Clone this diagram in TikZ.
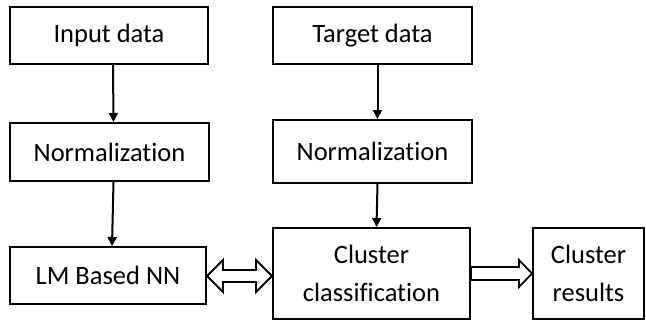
\documentclass[tikz,border=0pt]{standalone}
\usepackage{fontspec}
\setmainfont{Carlito}[RawFeature=-liga]
\usetikzlibrary{arrows.meta,calc}
\begin{document}
\begin{tikzpicture}[x=1pt,y=-1pt,
  box/.style={draw,line width=2pt,inner sep=0pt,align=center,font=\fontsize{26.5}{38}\selectfont},
  flow/.style={line width=2pt,-{Triangle[length=9pt,width=9pt]}},
  hollow/.style={draw,line width=1.8pt,fill=white,line join=miter}]
\useasboundingbox (0,0) rectangle (646,322);
% left column
\node[box,minimum width=198pt,minimum height=57pt] (in) at (109,35.5) {Input data};
\node[box,minimum width=199pt,minimum height=58pt] (n1) at (109.5,152) {Normalization};
\node[box,minimum width=196pt,minimum height=57pt] (lm) at (108,275.5) {LM Based NN};
% right column
\node[box,minimum width=199pt,minimum height=57pt] (tg) at (372.5,35.5) {Target data};
\node[box,minimum width=199pt,minimum height=63pt] (n2) at (372.5,151.5) {Normalization};
\node[box,minimum width=197pt,minimum height=91pt] (cc) at (371.5,273.5) {Cluster\\classification};
\node[box,minimum width=111pt,minimum height=91pt] (cr) at (588.5,273.5) {Cluster\\results};
% vertical flow arrows
\draw[flow] ([xshift=4pt]in.south) -- ([xshift=4pt]n1.north);
\draw[flow] ([xshift=4pt]n1.south) -- ([xshift=4pt]lm.north);
\draw[flow] ([xshift=5pt]tg.south) -- ([xshift=5pt]n2.north);
\draw[flow] ([xshift=5pt]n2.south) -- ([xshift=5pt]cc.north);
% hollow double arrow between network and classification
\coordinate (da) at (lm.east |- 0,276);
\coordinate (db) at (cc.west |- 0,276);
\path[hollow] (da) -- ($(da)+(16,-16)$) -- ($(da)+(16,-6)$) -- ($(db)+(-16,-6)$)
  -- ($(db)+(-16,-16)$) -- (db) -- ($(db)+(-16,16)$) -- ($(db)+(-16,6)$)
  -- ($(da)+(16,6)$) -- ($(da)+(16,16)$) -- cycle;
% hollow arrow to the results
\coordinate (ra) at (cc.east |- 0,273.5);
\coordinate (rb) at (cr.west |- 0,273.5);
\path[hollow] ($(ra)+(0,-6.5)$) -- ($(rb)+(-13,-6.5)$) -- ($(rb)+(-13,-13.5)$)
  -- (rb) -- ($(rb)+(-13,13.5)$) -- ($(rb)+(-13,6.5)$) -- ($(ra)+(0,6.5)$) -- cycle;
\end{tikzpicture}
\end{document}
